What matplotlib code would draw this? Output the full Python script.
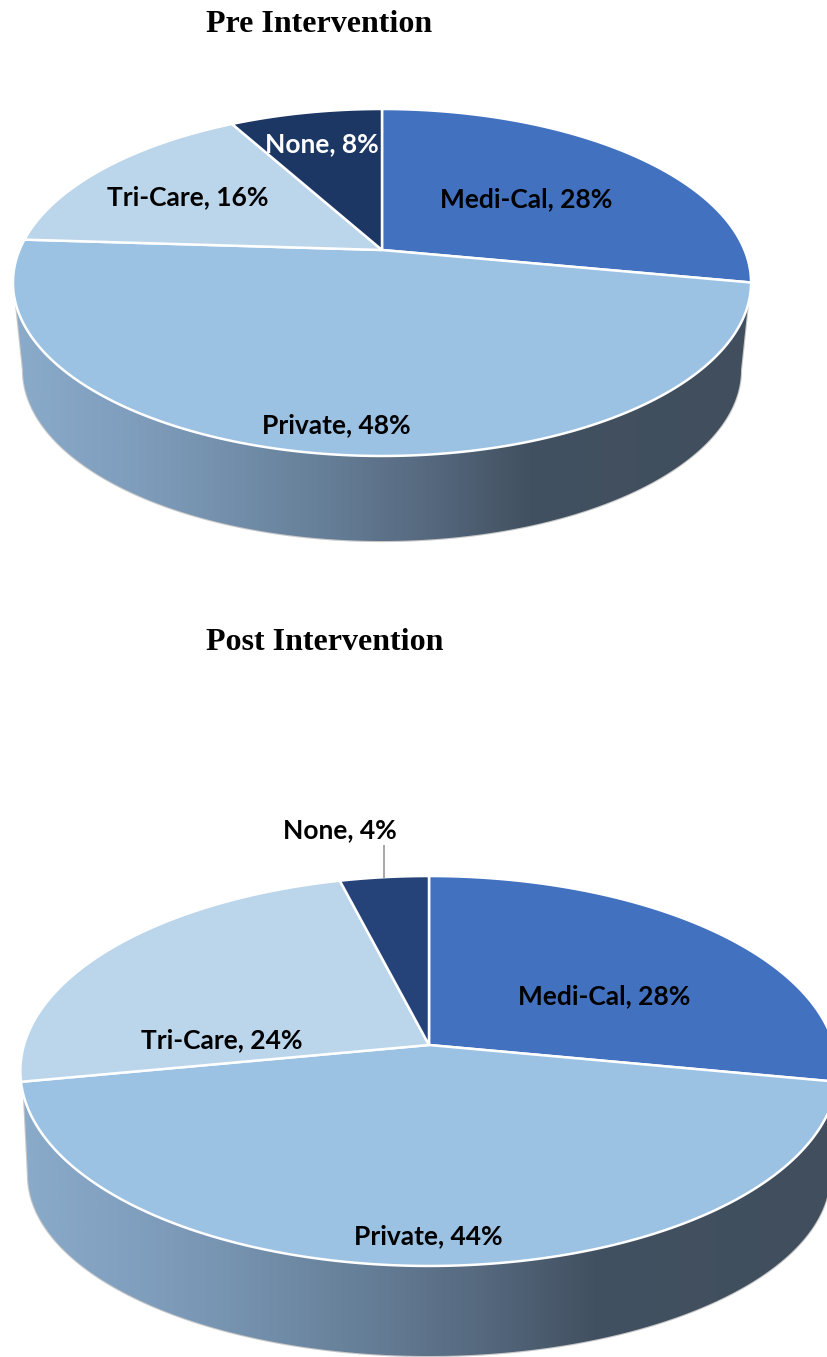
import numpy as np
import matplotlib
matplotlib.use("Agg")
import matplotlib.pyplot as plt
from matplotlib.patches import Polygon
from matplotlib.colors import LinearSegmentedColormap

categories = ["Medi-Cal", "Private", "Tri-Care", "None"]
pre_values = [28, 48, 16, 8]
post_values = [28, 44, 24, 4]
pre_title = "Pre Intervention"
post_title = "Post Intervention"

W, H = 828, 1357
fig = plt.figure(figsize=(W / 100, H / 100), dpi=100)
ax = fig.add_axes([0, 0, 1, 1])
ax.set_xlim(0, W)
ax.set_ylim(H, 0)
ax.axis("off")

side_cmap = LinearSegmentedColormap.from_list(
    "side",
    [(0.0, "#8BABCB"), (0.2, "#7C9AB8"), (0.42, "#667F98"), (0.56, "#56697F"),
     (0.70, "#425161"), (1.0, "#404E5D")],
)
LABEL_FONT = dict(family="Lato", fontweight="bold", fontsize=19, ha="center", va="center")


def draw_pie(values, colors, cx, cy, A, B, p, side, labels, label_colors):
    def project(theta):
        x, y = np.cos(theta), np.sin(theta)
        w = 1 + p * y
        return cx + A * x / w, cy - B * y / w

    # side wall: lower half of the bottom ellipse, joined up to the rim at y = ytop
    bcy, brx, bry, ytop, half = side
    t = np.linspace(np.pi, 0, 400)
    bx, by = cx + brx * np.cos(t), bcy + bry * np.sin(t)
    lower = np.linspace(np.pi, 2 * np.pi, 2000)
    rx, ry = project(lower)
    below = ry >= ytop
    wall = np.column_stack([np.r_[bx, rx[below][-1], rx[below][0]],
                            np.r_[by, ry[below][-1], ry[below][0]]])
    ax.add_patch(Polygon(wall, closed=True, facecolor="none", edgecolor="#c8c8c8", lw=1.6, zorder=1))
    grad = np.linspace(0, 1, 512).reshape(1, -1)
    im = ax.imshow(grad, cmap=side_cmap, aspect="auto", zorder=1.5,
                   extent=[cx - half, cx + half, bcy + bry + 3, ytop - 3], interpolation="bilinear")
    im.set_clip_path(Polygon(wall, closed=True, transform=ax.transData))

    # top face
    start = np.pi / 2
    fracs = np.cumsum([0] + list(values)) / np.sum(values)
    for i, col in enumerate(colors):
        a0 = start - 2 * np.pi * fracs[i]
        a1 = start - 2 * np.pi * fracs[i + 1]
        tt = np.linspace(a0, a1, 200)
        px, py = project(tt)
        pts = np.column_stack([np.r_[cx, px], np.r_[cy, py]])
        ax.add_patch(Polygon(pts, closed=True, facecolor=col, edgecolor="white",
                             lw=1.8, joinstyle="round", zorder=3))
    # hairline grey rim just outside the white outline
    tt = np.linspace(0, 2 * np.pi, 600)
    px, py = project(tt)
    ax.plot(px, py, color="#d8d8d8", lw=0.5, zorder=2.5)

    for name, v, (lx, ly), tc in zip(categories, values, labels, label_colors):
        ax.text(lx, ly, f"{name}, {v}%", color=tc, zorder=5, **LABEL_FONT)


pre_colors = ["#4271BF", "#9BC1E3", "#BBD5EB", "#1D3765"]
post_colors = ["#4271BF", "#9BC1E3", "#BBD5EB", "#254379"]

draw_pie(pre_values, pre_colors, 382, 250, 362.5, 167.4, 0.1873,
         (370, 359, 171, 305, 369),
         [(526, 199), (336, 425), (188, 197), (322, 144)],
         ["black", "black", "black", "white"])

draw_pie(post_values, post_colors, 429, 1045, 405, 191.5, 0.1333,
         (1175, 401, 181, 1097, 412),
         [(604, 996), (428, 1236), (222, 1040), (340, 830)],
         ["black", "black", "black", "black"])
ax.plot([384, 384], [846, 877], color="#a6a6a6", lw=1.4, zorder=4)

for title, y in ((pre_title, 24), (post_title, 642)):
    ax.text(206, y, title, family="Liberation Serif", fontweight="bold", fontsize=23,
            ha="left", va="center", color="black", zorder=5)

ax.set_xlim(0, W)
ax.set_ylim(H, 0)
fig.savefig("out.png", dpi=100, facecolor="white")
